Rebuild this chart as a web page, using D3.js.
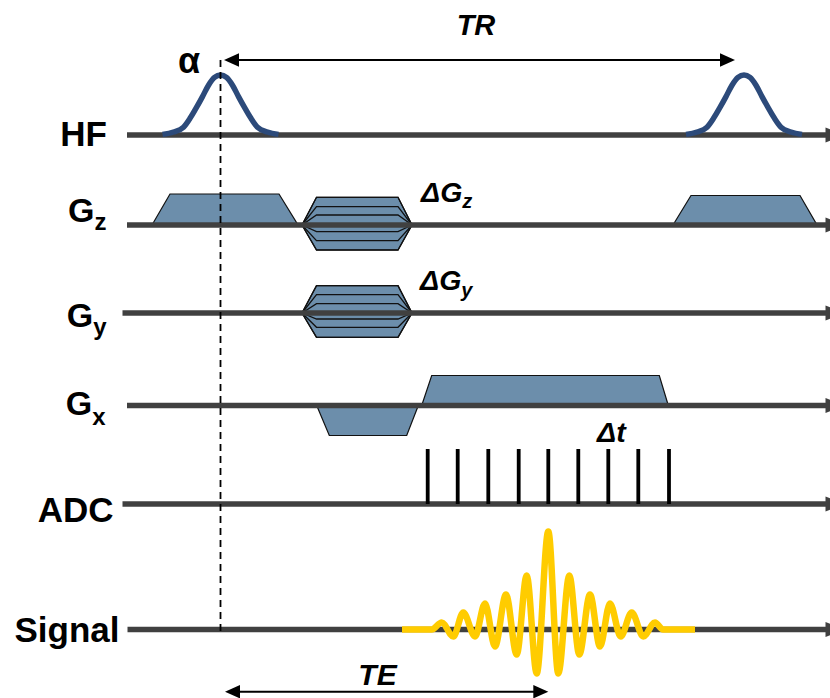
<!DOCTYPE html>
<html><head><meta charset="utf-8">
<script src="https://cdn.jsdelivr.net/npm/d3@7"></script>
<style>html,body{margin:0;padding:0;background:#fff;} svg{display:block;}</style>
</head><body>
<svg id="chart" width="830" height="698"></svg>
<script>
// ---------- data (time in arbitrary units, t = 0 at the excitation pulse) ----------
const rows = ["HF", "Gz", "Gy", "Gx", "ADC", "Signal"];
const axisStart = [-93.5, -93.5, -98, -93.5, -98, -93];
const axisEnd = 605;

const rfCenters = [0, 523.5];
const rfOffsets = [-58, -47, -37, -30, -24, -18, -12, -6, 0, 6, 12, 18, 24, 30, 37, 47, 58];
const rfAmps    = [0.01, 0.05, 0.13, 0.29, 0.46, 0.64, 0.83, 0.96, 1, 0.96, 0.83, 0.64, 0.46, 0.29, 0.13, 0.05, 0.01];
const rfPeak = 60;

// trapezoid gradient lobes
const trapRows      = ["Gz", "Gz", "Gx", "Gx"];
const trapStart     = [-68.5, 452.5, 96.2, 201.2];
const trapFlatStart = [-50.5, 470.5, 108.8, 211.2];
const trapFlatEnd   = [58.5, 579.5, 186.2, 438.8];
const trapEnd       = [77.5, 596.5, 197.8, 447.8];
const trapAmp       = [31, 29.5, -30, 30];

// phase-encoding tables
const peRows = ["Gz", "Gy"];
const peTimes = [81.5, 96, 177.5, 191.5];
const peLevels = [
  [27.7, 18.3, 10, -6.7, -15.7, -25],
  [27.3, 18.3, 9.3, -6, -14.3, -24.3]
];

// ADC samples
const adcTimes = [207.2, 237.2, 267.8, 298.2, 327.8, 357.8, 387.8, 417.8, 448.5];
const adcHeight = 55;

// echo signal
const sigTimes = [181.5, 211.2, 221.2, 232.8, 242.8, 254.5, 264.5, 274.5, 285.5, 296.2, 306.2, 316.2, 327.8,
                  337.8, 348.8, 358.8, 369.5, 379.5, 389.5, 400.2, 411.2, 422.8, 434.5, 442.5, 474.5];
const sigAmps  = [0, 0, 7, -7, 17, -7, 26, -17, 35, -25, 54, -44, 98,
                  -44, 54, -25, 35, -17, 26, -7, 17, -7, 7, 0, 0];

// timing annotations
const trSpan = [3.5, 514.5];
const teSpan = [4.5, 327.8];

// ---------- layout ----------
const svg = d3.select("#chart");
const W = 830, H = 698;
svg.append("rect").attr("width", W).attr("height", H).attr("fill", "#fff");

const x = d3.scaleLinear().domain([-100, 600]).range([120.5, 820.5]);
const rowY = d3.scaleOrdinal().domain(rows).range([135, 225, 313, 405.5, 504, 629.5]);
const amp = d3.scaleLinear().domain([-100, 100]).range([100, -100]);
const Y = (row, v) => rowY(row) + amp(v);

const axisColor = "#404040";
const fillColor = "#6C8EAB";
const rfColor = "#2C4A7A";
const sigColor = "#FFCC00";
const font = "'Liberation Sans', Arial, Helvetica, sans-serif";

const line = d3.line().x(d => d[0]).y(d => d[1]);

// gradient trapezoids
const gTrap = svg.append("g");
trapRows.forEach((r, i) => {
  const pts = [
    [x(trapStart[i]), Y(r, 0)],
    [x(trapFlatStart[i]), Y(r, trapAmp[i])],
    [x(trapFlatEnd[i]), Y(r, trapAmp[i])],
    [x(trapEnd[i]), Y(r, 0)]
  ];
  gTrap.append("path").attr("d", line(pts) + "Z")
    .attr("fill", fillColor).attr("stroke", "#111").attr("stroke-width", 1.2)
    .attr("stroke-linejoin", "miter");
});

// phase-encode tables
peRows.forEach((r, k) => {
  const lv = peLevels[k];
  const top = d3.max(lv), bot = d3.min(lv);
  const outer = [
    [x(peTimes[0]), Y(r, 0)],
    [x(peTimes[1]), Y(r, top)],
    [x(peTimes[2]), Y(r, top)],
    [x(peTimes[3]), Y(r, 0)],
    [x(peTimes[2]), Y(r, bot)],
    [x(peTimes[1]), Y(r, bot)]
  ];
  gTrap.append("path").attr("d", line(outer) + "Z")
    .attr("fill", fillColor).attr("stroke", "#111").attr("stroke-width", 1.2);
  lv.forEach(v => {
    const pts = [
      [x(peTimes[0]), Y(r, 0)],
      [x(peTimes[1]), Y(r, v)],
      [x(peTimes[2]), Y(r, v)],
      [x(peTimes[3]), Y(r, 0)]
    ];
    gTrap.append("path").attr("d", line(pts))
      .attr("fill", "none").attr("stroke", "#111").attr("stroke-width", 1.3);
  });
});

// axes with arrowheads
const gAx = svg.append("g");
rows.forEach((r, i) => {
  const y0 = rowY(r);
  gAx.append("line")
    .attr("x1", x(axisStart[i])).attr("x2", x(axisEnd) + 2)
    .attr("y1", y0).attr("y2", y0)
    .attr("stroke", axisColor).attr("stroke-width", 5.3);
  gAx.append("path")
    .attr("d", line([[x(axisEnd), y0 - 7.5], [x(axisEnd) + 20, y0], [x(axisEnd), y0 + 7.5]]) + "Z")
    .attr("fill", axisColor);
});

// RF pulses
const rfLine = d3.line().curve(d3.curveMonotoneX).x(d => d[0]).y(d => d[1]);
rfCenters.forEach(c => {
  const pts = rfOffsets.map((o, j) => [x(c + o), Y("HF", rfAmps[j] * rfPeak)]);
  svg.append("path").attr("d", rfLine(pts))
    .attr("fill", "none").attr("stroke", rfColor).attr("stroke-width", 5.5)
    .attr("stroke-linejoin", "round");
});

// ADC sampling lines
svg.append("g").selectAll("line").data(adcTimes).join("line")
  .attr("x1", d => x(d)).attr("x2", d => x(d))
  .attr("y1", Y("ADC", adcHeight)).attr("y2", Y("ADC", 0))
  .attr("stroke", "#000").attr("stroke-width", 3.8);

// echo signal
const sigPts = sigTimes.map((t, j) => [x(t), Y("Signal", sigAmps[j])]);
svg.append("path").attr("d", rfLine(sigPts))
  .attr("fill", "none").attr("stroke", sigColor).attr("stroke-width", 6.5)
  .attr("stroke-linejoin", "round");

// dashed reference line at the excitation pulse
svg.append("line")
  .attr("x1", x(0)).attr("x2", x(0))
  .attr("y1", 60).attr("y2", Y("Signal", 0) + 2)
  .attr("stroke", "#000").attr("stroke-width", 1.8).attr("stroke-dasharray", "7,5");

// double arrows (TR, TE)
function dblArrow(t0, t1, y) {
  const g = svg.append("g");
  const xa = x(t0), xb = x(t1), L = 15, h = 6.7;
  g.append("line").attr("x1", xa + 5).attr("x2", xb - 5).attr("y1", y).attr("y2", y)
    .attr("stroke", "#000").attr("stroke-width", 2);
  g.append("path").attr("d", line([[xa, y], [xa + L, y - h], [xa + L, y + h]]) + "Z").attr("fill", "#000");
  g.append("path").attr("d", line([[xb, y], [xb - L, y - h], [xb - L, y + h]]) + "Z").attr("fill", "#000");
}
dblArrow(trSpan[0], trSpan[1], 60);
dblArrow(teSpan[0], teSpan[1], 691.7);

// ---------- text ----------
const T = svg.append("g").attr("font-family", font).attr("font-weight", "bold").attr("fill", "#000");

T.append("text").attr("x", 107).attr("y", 145.7).attr("text-anchor", "end")
  .attr("font-size", 35).text("HF");
T.append("text").attr("x", 113.5).attr("y", 521.7).attr("text-anchor", "end")
  .attr("font-size", 35).text("ADC");
T.append("text").attr("x", 119.5).attr("y", 641.7).attr("text-anchor", "end")
  .attr("font-size", 35).text("Signal");

function gLabel(sub, xr, y, dy) {
  const t = T.append("text").attr("x", xr).attr("y", y).attr("text-anchor", "end");
  t.append("tspan").attr("font-size", 34).text("G");
  t.append("tspan").attr("font-size", 24).attr("dy", dy).text(sub);
}
gLabel("z", 106.5, 221.7, 8.3);
gLabel("y", 106.5, 326.7, 8.3);
gLabel("x", 105.5, 415, 10);

T.append("text").attr("x", 178).attr("y", 72.5).attr("font-size", 36).text("α");

const I = T.append("g").attr("font-style", "italic");
I.append("text").attr("x", 476).attr("y", 35).attr("text-anchor", "middle")
  .attr("font-size", 29).text("TR");
I.append("text").attr("x", 377.5).attr("y", 685).attr("text-anchor", "middle")
  .attr("font-size", 30).text("TE");

function dLabel(sub, x0, y, dy) {
  const t = I.append("text").attr("x", x0).attr("y", y);
  t.append("tspan").attr("font-size", 28.5).text("ΔG");
  t.append("tspan").attr("font-size", 20).attr("dy", dy).text(sub);
}
dLabel("z", 421, 201.7, 6.5);
dLabel("y", 420, 290, 6.5);
I.append("text").attr("x", 597).attr("y", 441.7).attr("font-size", 28.5).text("Δt");
</script>
</body></html>
